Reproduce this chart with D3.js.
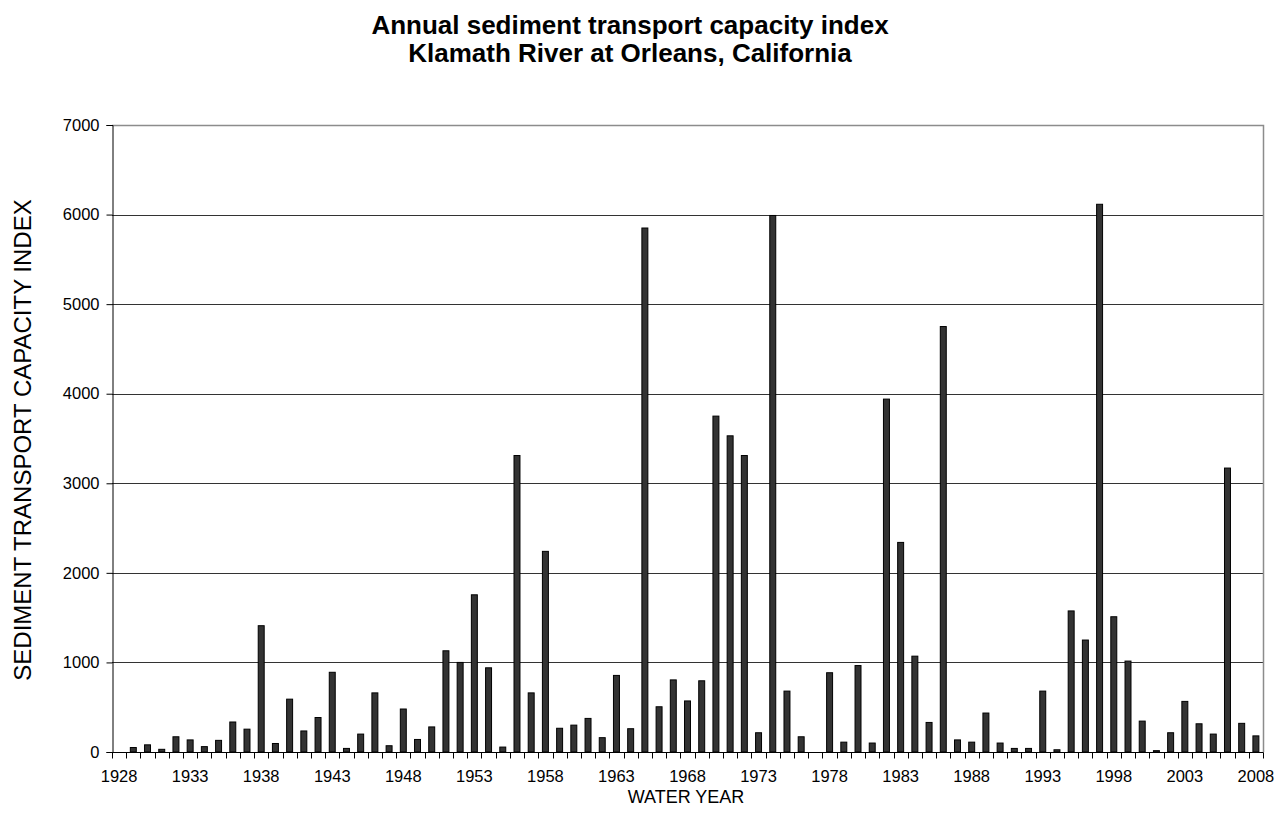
<!DOCTYPE html>
<html>
<head>
<meta charset="utf-8">
<script src="https://cdn.jsdelivr.net/npm/d3@7"></script>
<style>
  html, body { margin: 0; padding: 0; background: #fff; }
  svg { display: block; }
  text { font-family: "Liberation Sans", Arial, sans-serif; fill: #000; }
</style>
</head>
<body>
<svg id="chart" width="1287" height="833"></svg>
<script>
const titleLines = ["Annual sediment transport capacity index", "Klamath River at Orleans, California"];
const xTitle = "WATER YEAR";
const yTitle = "SEDIMENT TRANSPORT CAPACITY INDEX";

const years = d3.range(1928, 2009).map(String);
const values = [
  0, 50, 80, 30, 170, 135, 60, 130, 335, 255,      // 1928-1937
  1410, 95, 590, 235, 385, 890, 40, 200, 660, 70,  // 1938-1947
  480, 140, 280, 1130, 1000, 1755, 940, 55, 3310, 660, // 1948-1957
  2240, 265, 300, 375, 160, 855, 260, 5850, 505, 805,  // 1958-1967
  570, 795, 3750, 3530, 3310, 215, 5990, 680, 170, 0,  // 1968-1977
  885, 110, 965, 100, 3940, 2340, 1070, 330, 4750, 135, // 1978-1987
  110, 435, 100, 40, 40, 680, 25, 1575, 1250, 6115,   // 1988-1997
  1510, 1015, 345, 15, 215, 565, 315, 200, 3170, 320,  // 1998-2007
  180                                                  // 2008
];
const xTickLabels = ["1928","1933","1938","1943","1948","1953","1958","1963","1968","1973","1978","1983","1988","1993","1998","2003","2008"];
const yTicks = [0, 1000, 2000, 3000, 4000, 5000, 6000, 7000];

const data = years.map((y, i) => ({year: y, value: values[i]}));

const svg = d3.select("#chart");
const margin = {left: 112, right: 1263, top: 125, bottom: 752};

const x = d3.scaleBand().domain(years).range([margin.left, margin.right]).padding(0);
const y = d3.scaleLinear().domain([0, 7000]).range([margin.bottom, margin.top]);

// gridlines
svg.append("g")
  .selectAll("line")
  .data(yTicks.filter(d => d > 0 && d < 7000))
  .join("line")
  .attr("x1", margin.left).attr("x2", margin.right)
  .attr("y1", d => Math.round(y(d)) + 0.5).attr("y2", d => Math.round(y(d)) + 0.5)
  .attr("stroke", "#333").attr("stroke-width", 1);

// plot border (top & right)
svg.append("path")
  .attr("d", `M${margin.left},${Math.round(y(7000)) + 0.5}H${margin.right + 0.5}V${margin.bottom}`)
  .attr("fill", "none").attr("stroke", "#8c8c8c").attr("stroke-width", 1.5);

// bars
const bw = x.bandwidth() * 0.42;
svg.append("g")
  .selectAll("rect")
  .data(data.filter(d => d.value > 0))
  .join("rect")
  .attr("x", d => x(d.year) + (x.bandwidth() - bw) / 2)
  .attr("width", bw)
  .attr("y", d => y(d.value))
  .attr("height", d => y(0) - y(d.value))
  .attr("fill", "#333333")
  .attr("stroke", "#000")
  .attr("stroke-width", 1);

// y axis
const yAxis = d3.axisLeft(y).tickValues(yTicks).tickSize(6).tickPadding(7).tickFormat(d3.format("d"));
const gy = svg.append("g").attr("transform", `translate(${margin.left + 0.5},0)`).call(yAxis);
gy.select(".domain").attr("stroke", "#000");
gy.selectAll(".tick line").attr("stroke", "#000");
gy.selectAll(".tick text").style("font-size", "16.5px").attr("fill", "#000");

// x axis: ticks between categories
const xAxisG = svg.append("g").attr("transform", `translate(0,${margin.bottom + 0.5})`);
xAxisG.append("line")
  .attr("x1", margin.left).attr("x2", margin.right + 0.5)
  .attr("stroke", "#000");
const tickPos = d3.range(years.length + 1).map(i => margin.left + i * x.bandwidth());
xAxisG.selectAll("line.tk").data(tickPos).join("line").attr("class", "tk")
  .attr("x1", d => Math.round(d) + 0.5).attr("x2", d => Math.round(d) + 0.5)
  .attr("y1", 0).attr("y2", 6).attr("stroke", "#000");
xAxisG.selectAll("text").data(xTickLabels).join("text")
  .attr("x", d => x(d) + x.bandwidth() / 2)
  .attr("y", 29)
  .attr("text-anchor", "middle")
  .style("font-size", "16.5px")
  .text(d => d);

// titles
svg.append("g").selectAll("text").data(titleLines).join("text")
  .attr("x", 630).attr("y", (d, i) => 34 + i * 28)
  .attr("text-anchor", "middle")
  .style("font-size", "26px").style("font-weight", "bold")
  .text(d => d);

svg.append("text")
  .attr("x", 686).attr("y", 803)
  .attr("text-anchor", "middle")
  .style("font-size", "18px")
  .text(xTitle);

svg.append("text")
  .attr("transform", `translate(31,440) rotate(-90)`)
  .attr("text-anchor", "middle")
  .style("font-size", "24px")
  .text(yTitle);
</script>
</body>
</html>
